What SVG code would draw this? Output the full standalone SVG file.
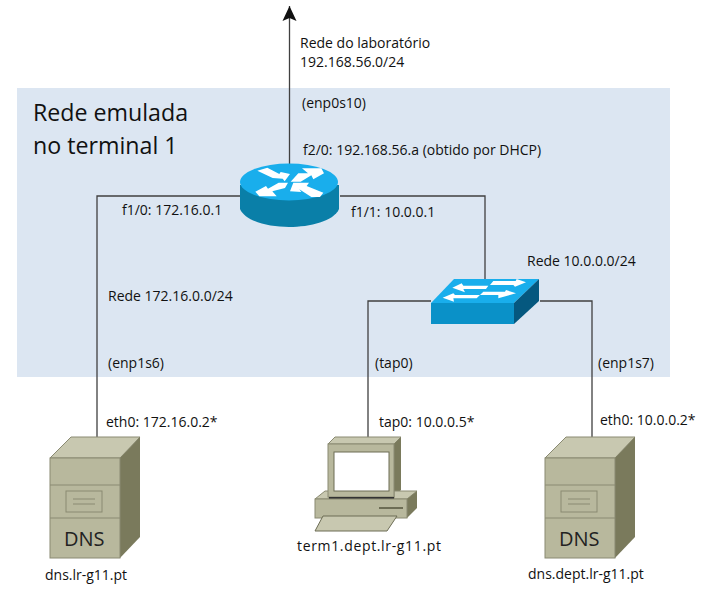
<svg xmlns="http://www.w3.org/2000/svg" width="718" height="607" viewBox="0 0 718 607">
<style>
text{font-family:"Open Sans","Noto Sans",sans-serif;font-size:14px;fill:#111}
.big{font-size:23.2px}
.dns{font-size:20px;fill:#222}
.wire{fill:none;stroke:#404040;stroke-width:1.3}
.out{stroke:#8a8a72;stroke-width:1}
.ln{fill:none;stroke:#8a8a72;stroke-width:1}
.front{fill:#b8b89d}.top{fill:#c8c8b0}.side{fill:#7a7a5c}
.ar{fill:#fff}
</style>
<defs>
<marker id="arrow" markerUnits="userSpaceOnUse" markerWidth="18" markerHeight="18" refX="15" refY="9" orient="auto"><path d="M0,2 L15,9 L0,16 L3,9 Z" fill="#111"/></marker>
</defs>
<rect x="17" y="88" width="653" height="289" fill="#dce6f2"/>
<g id="connectors">
<path class="wire" d="M289.5,170 V6" marker-end="url(#arrow)"/>
<path class="wire" d="M240,196 H97 V437"/>
<path class="wire" d="M340,196 H485 V279"/>
<path class="wire" d="M431,301 H368 V437"/>
<path class="wire" d="M540,301 H592 V437"/>
</g>
<text class="big" x="33" y="121">Rede emulada</text>
<text class="big" x="33" y="154">no terminal 1</text>
<text x="300" y="48">Rede do laboratório</text>
<text x="300" y="67">192.168.56.0/24</text>
<text x="302" y="108">(enp0s10)</text>
<text x="303" y="155">f2/0: 192.168.56.a (obtido por DHCP)</text>
<text x="122" y="215">f1/0: 172.16.0.1</text>
<text x="351" y="217">f1/1: 10.0.0.1</text>
<text x="527" y="266">Rede 10.0.0.0/24</text>
<text x="108" y="301">Rede 172.16.0.0/24</text>
<text x="108" y="368">(enp1s6)</text>
<text x="375" y="368">(tap0)</text>
<text x="598" y="368">(enp1s7)</text>
<text x="106" y="427">eth0: 172.16.0.2*</text>
<text x="379" y="427">tap0: 10.0.0.5*</text>
<text x="600" y="425">eth0: 10.0.0.2*</text>
<g id="router">
<path d="M240,185 V209 C245,221 268,227 289,227 C310,227 334,221 339,209 V185 Z" fill="#0a7fa8"/>
<ellipse cx="289" cy="182" rx="49" ry="18.5" fill="#19aeec"/>
<g transform="translate(230,150) scale(0.3333)">
<path class="ar" d="M82,62 L112,53 L148,72 L152,66 L180,72 L164,94 L158,86 L128,84 Z"/>
<path class="ar" d="M182,95 L205,70 L234,70 L216,55 L274,55 L282,70 L250,88 L244,76 L212,95 Z"/>
<path class="ar" d="M174,98 L165,114 L127,124 L140,139 L88,139 L76,125 L108,108 L114,116 L146,98 Z"/>
<path class="ar" d="M180,124 L190,98 L237,98 L230,108 L280,128 L270,141 L244,141 L208,118 L214,126 Z"/>
</g>
</g>
<g id="switch">
<path d="M431,303 L454,279 L539,279 L514,303 Z" fill="#19aeec"/>
<path d="M431,303 H514 V324 H431 Z" fill="#0a91c8"/>
<path d="M514,303 L539,279 V301 L514,324 Z" fill="#05587f"/>
<g transform="translate(420,265) scale(0.3333)">
<path class="ar" d="M97,68 L125,55 L130,62 L205,62 L198,72 L130,72 L135,82 Z"/>
<path class="ar" d="M318,52 L290,42 L287,48 L220,48 L210,60 L280,60 L285,65 Z"/>
<path class="ar" d="M68,98 L100,85 L105,90 L180,90 L170,100 L100,100 L102,110 Z"/>
<path class="ar" d="M288,85 L258,75 L255,80 L190,80 L180,90 L235,90 L235,100 Z"/>
</g>
</g>
<g id="dns1">
<path class="top out" d="M50,458 L71,437 L140,437 L120,458 Z"/>
<path class="side" d="M120,458 L140,437 V537 L120,558 Z"/>
<rect class="front out" x="50" y="458" width="70" height="100"/>
<path class="ln" d="M50,485 H120 M50,518 H120"/>
<rect class="front out" x="66" y="491" width="36" height="21"/>
<path class="ln" d="M73,499 H95 M73,504 H95"/>
<text class="dns" x="64" y="546">DNS</text>
<text x="45" y="580">dns.lr-g11.pt</text>
</g>
<g id="term1">
<path class="top out" d="M328,444 L335,437 L401,437 L394,444 Z"/>
<path class="side" d="M394,444 L401,437 V490 L394,497 Z"/>
<path class="top out" d="M315,499 L325,491 H329 V499 Z"/>
<path class="top out" d="M394,491 H417 L407,499 H394 Z"/>
<path class="side" d="M407,499 L417,491 V508 L407,518 Z"/>
<rect class="front out" x="328" y="444" width="66" height="53"/>
<rect x="334" y="452" width="55" height="39" fill="#fff" stroke="#6d6d55"/>
<path d="M329,497 H394 V499 H329 Z" fill="#333"/>
<rect class="front out" x="315" y="499" width="92" height="19"/>
<path d="M379,508 H403" stroke="#6d6d55" stroke-width="2"/>
<path class="top" d="M323,516 H397 L387,531 H315 Z" stroke="#6d6d55"/>
<text x="297" y="551" textLength="144" lengthAdjust="spacing">term1.dept.lr-g11.pt</text>
</g>
<g id="dns2">
<path class="top out" d="M545,458 L566,437 L635,437 L615,458 Z"/>
<path class="side" d="M615,458 L635,437 V537 L615,558 Z"/>
<rect class="front out" x="545" y="458" width="70" height="100"/>
<path class="ln" d="M545,485 H615 M545,518 H615"/>
<rect class="front out" x="561" y="491" width="36" height="21"/>
<path class="ln" d="M568,499 H590 M568,504 H590"/>
<text class="dns" x="559" y="546">DNS</text>
<text x="528" y="579">dns.dept.lr-g11.pt</text>
</g>
</svg>
